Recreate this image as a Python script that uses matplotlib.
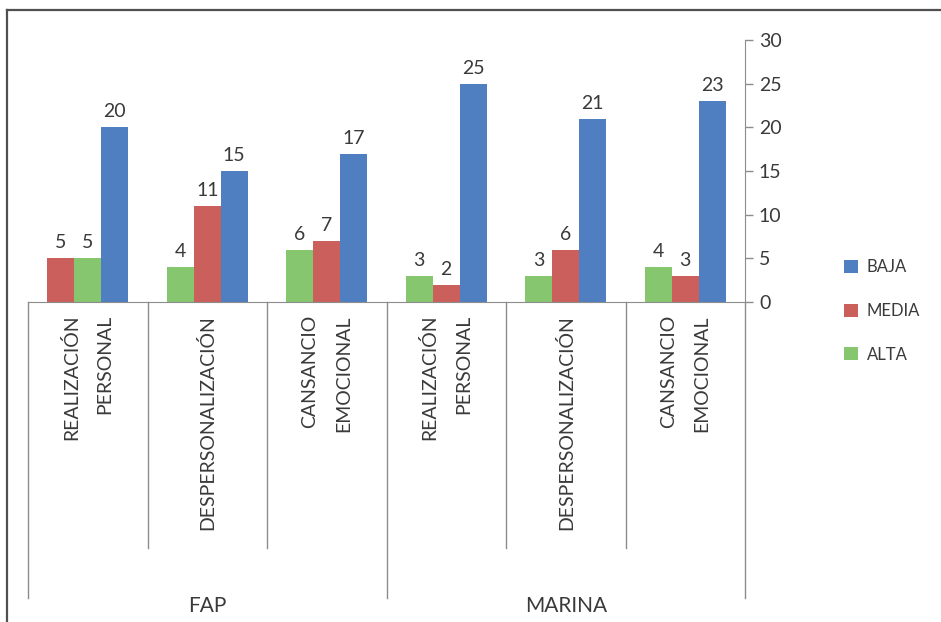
import matplotlib.pyplot as plt
from matplotlib.patches import Patch
from matplotlib.lines import Line2D

# -------------------------------
# DATA
# -------------------------------
groups = ["FAP", "MARINA"]
categories = ["REALIZACIÓN\nPERSONAL", "DESPERSONALIZACIÓN", "CANSANCIO\nEMOCIONAL",
              "REALIZACIÓN\nPERSONAL", "DESPERSONALIZACIÓN", "CANSANCIO\nEMOCIONAL"]
alta = [5, 4, 6, 3, 3, 4]
media = [5, 11, 7, 2, 6, 3]
baja = [20, 15, 17, 25, 21, 23]
# bar order in each cluster (the first cluster has MEDIA before ALTA in the original)
orders = [["MEDIA", "ALTA", "BAJA"]] + [["ALTA", "MEDIA", "BAJA"]] * 5

series = {"ALTA": alta, "MEDIA": media, "BAJA": baja}
colors = {"BAJA": "#4F7FC0", "MEDIA": "#CA5F5C", "ALTA": "#86C66E"}

plt.rcParams['font.family'] = ['Lato', 'DejaVu Sans']
TXT = "#3a3a3a"
GRID = "#8c8c8c"

fig = plt.figure(figsize=(9.41, 6.22), dpi=100)
W, H = 941, 622
ax = fig.add_axes([28 / W, 1 - 302 / H, (745 - 28) / W, (302 - 40) / H])

# -------------------------------
# BARS
# -------------------------------
bw = 0.226
for i, order in enumerate(orders):
    for j, name in enumerate(order):
        x = i + 0.5 + (j - 1) * bw
        v = series[name][i]
        ax.bar(x, v, width=bw, color=colors[name], linewidth=0)
        ax.text(x, v + 0.8, str(v), ha="center", va="bottom", fontsize=14, color=TXT)

ax.set_xlim(0, 6)
ax.set_ylim(0, 30)
ax.set_xticks([])
ax.yaxis.tick_right()
ax.set_yticks(range(0, 31, 5))
ax.tick_params(axis="y", direction="out", length=6, width=1, color=GRID,
               labelsize=14, labelcolor=TXT, pad=4)
for s in ["top", "left"]:
    ax.spines[s].set_visible(False)
ax.spines["bottom"].set_color(GRID)
ax.spines["right"].set_color(GRID)

# -------------------------------
# CATEGORY AXIS (multi-level)
# -------------------------------
tr = ax.get_xaxis_transform()
inner_bottom = -(548 - 302) / 262
outer_bottom = -(598 - 302) / 262
for b in range(7):
    y1 = outer_bottom if b % 3 == 0 else inner_bottom
    ax.add_line(Line2D([b, b], [0, y1], transform=tr, color=GRID, lw=1, clip_on=False))

for i, lab in enumerate(categories):
    ax.text(i + 0.5, -13 / 262, lab, transform=tr, rotation=90, ha="center", va="top",
            multialignment="right", fontsize=14, color=TXT, linespacing=2.2)

for g, name in enumerate(groups):
    ax.text(g * 3 + 1.5, -(606 - 302) / 262, name, transform=tr, ha="center", va="center",
            fontsize=15, color=TXT)

# -------------------------------
# LEGEND
# -------------------------------
handles = [Patch(facecolor=colors[k], edgecolor="none", label=k) for k in ["BAJA", "MEDIA", "ALTA"]]
fig.legend(handles=handles, loc="center left", bbox_to_anchor=(829 / W, 1 - 311 / H),
           frameon=False, fontsize=12, labelcolor=TXT, handlelength=0.85, handleheight=0.8,
           handletextpad=0.5, labelspacing=1.65)

# outer frame (top and left edges)
fig.add_artist(Line2D([7 / W, 1], [1 - 10 / H, 1 - 10 / H], transform=fig.transFigure,
                      color="#505050", lw=1.6))
fig.add_artist(Line2D([7 / W, 7 / W], [0, 1 - 10 / H], transform=fig.transFigure,
                      color="#505050", lw=1.6))

fig.savefig("out.png", dpi=100)
